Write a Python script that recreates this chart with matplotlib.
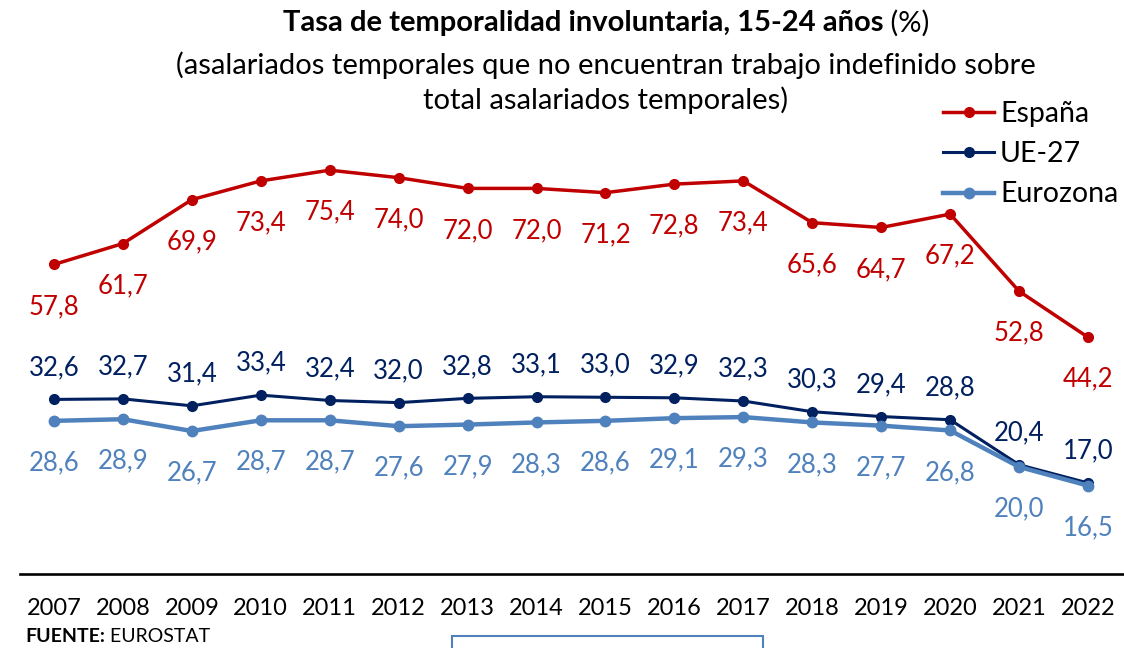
import matplotlib
matplotlib.use("Agg")
import matplotlib.pyplot as plt
from matplotlib.patches import Rectangle

plt.rcParams['font.family'] = ['Lato', 'DejaVu Sans']

years = list(range(2007, 2023))
espana = [57.8, 61.7, 69.9, 73.4, 75.4, 74.0, 72.0, 72.0, 71.2, 72.8, 73.4, 65.6, 64.7, 67.2, 52.8, 44.2]
ue27 = [32.6, 32.7, 31.4, 33.4, 32.4, 32.0, 32.8, 33.1, 33.0, 32.9, 32.3, 30.3, 29.4, 28.8, 20.4, 17.0]
eurozona = [28.6, 28.9, 26.7, 28.7, 28.7, 27.6, 27.9, 28.3, 28.6, 29.1, 29.3, 28.3, 27.7, 26.8, 20.0, 16.5]
series_names = ["España", "UE-27", "Eurozona"]

title_bold = "Tasa de temporalidad involuntaria, 15-24 años"
title_reg = " (%)"
subtitle_lines = ["(asalariados temporales que no encuentran trabajo indefinido sobre",
                  "total asalariados temporales)"]
source_bold = "FUENTE:"
source_reg = " EUROSTAT"

C_ES = "#C00000"
C_UE = "#002060"
C_EZ = "#4F81BD"

W, H = 1124, 648
fig = plt.figure(figsize=(W / 100, H / 100), dpi=100)
ax = fig.add_axes([19.5 / W, 74 / H, 1103 / W, 482 / H])
ax.set_xlim(2006.5, 2022.5)
ax.set_ylim(0, 90)

ax.plot(years, espana, color=C_ES, lw=2.5, marker='o', ms=7, label=series_names[0], zorder=3)
ax.plot(years, ue27, color=C_UE, lw=2.2, marker='o', ms=7, label=series_names[1], zorder=3)
ax.plot(years, eurozona, color=C_EZ, lw=3.2, marker='o', ms=7.5, label=series_names[2], zorder=4)

px = 0.72  # points per pixel at 100 dpi
def lab(v):
    return f"{v:.1f}".replace('.', ',')

for x, v in zip(years, espana):
    ax.annotate(lab(v), (x, v), xytext=(0, -42 * px), textcoords='offset points',
                ha='center', va='center', color=C_ES, fontsize=18.5)
for x, v in zip(years, ue27):
    ax.annotate(lab(v), (x, v), xytext=(0, 32 * px), textcoords='offset points',
                ha='center', va='center', color=C_UE, fontsize=18.5)
for x, v in zip(years, eurozona):
    ax.annotate(lab(v), (x, v), xytext=(0, -42 * px), textcoords='offset points',
                ha='center', va='center', color=C_EZ, fontsize=18.5)

for s in ['top', 'right', 'left']:
    ax.spines[s].set_visible(False)
ax.spines['bottom'].set_linewidth(1.9)
ax.spines['bottom'].set_color('black')
ax.set_yticks([])
ax.set_xticks(years)
ax.set_xticklabels([str(y) for y in years], fontsize=17)
ax.tick_params(axis='x', length=0, pad=17)

leg = ax.legend(loc='upper left', bbox_to_anchor=(943 / W, 1 - 101 / H),
                bbox_transform=fig.transFigure, frameon=False, fontsize=20.5,
                handlelength=1.8, handletextpad=0.2, labelspacing=0.5,
                borderpad=0, borderaxespad=0)

# Title: bold + regular parts centered together
renderer = fig.canvas.get_renderer()
cx, ty = 606 / W, 1 - 23 / H
t1 = fig.text(0, ty, title_bold, fontsize=21, fontweight='bold', va='center', ha='left')
t2 = fig.text(0, ty, title_reg, fontsize=21, va='center', ha='left')
w1 = t1.get_window_extent(renderer).width
w2 = t2.get_window_extent(renderer).width
start = cx * W - (w1 + w2) / 2
t1.set_x(start / W)
t2.set_x((start + w1) / W)

for line, ypx in zip(subtitle_lines, [65, 100]):
    fig.text(cx, 1 - ypx / H, line, fontsize=21, ha='center', va='center')

s1 = fig.text(25 / W, 1 - 637 / H, source_bold, fontsize=14, fontweight='bold', va='center', ha='left')
ws = s1.get_window_extent(renderer).width
fig.text((25 + ws) / W, 1 - 637 / H, source_reg, fontsize=14, va='center', ha='left')

fig.patches.append(Rectangle((452 / W, -0.05), (763 - 452) / W, (0.05 + (648 - 636) / H),
                             transform=fig.transFigure, fill=False, edgecolor=C_EZ, lw=1.5))

fig.savefig("out.png", dpi=100)
